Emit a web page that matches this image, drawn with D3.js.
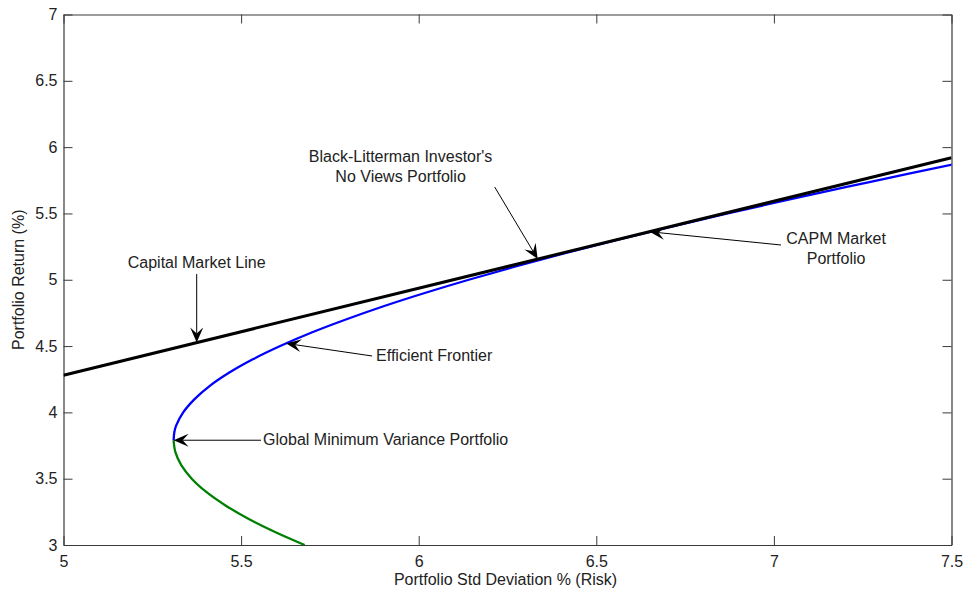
<!DOCTYPE html>
<html>
<head>
<meta charset="utf-8">
<script src="https://cdn.jsdelivr.net/npm/d3@7"></script>
<style>
  html, body { margin: 0; padding: 0; background: #fff; }
  svg { display: block; font-family: Arial, "Liberation Sans", Helvetica, sans-serif; }
</style>
</head>
<body>
<svg id="chart" width="965" height="596"></svg>
<script>
// Axis ticks
const xTicks = [5, 5.5, 6, 6.5, 7, 7.5];
const yTicks = [3, 3.5, 4, 4.5, 5, 5.5, 6, 6.5, 7];

// Capital Market Line (risk %, return %)
const cmlRisk = [5.0, 7.5];
const cmlReturn = [4.28, 5.92];

// Efficient frontier, upper (efficient) branch
const upperReturn = [3.79, 3.85, 3.90, 4.00, 4.10, 4.20, 4.30, 4.40, 4.50, 4.60, 4.70, 4.80, 4.90, 5.00, 5.10, 5.20, 5.30, 5.40, 5.50, 5.60, 5.70, 5.80, 5.87];
const upperRisk   = [5.310, 5.312, 5.317, 5.337, 5.369, 5.412, 5.467, 5.533, 5.610, 5.697, 5.795, 5.901, 6.017, 6.141, 6.273, 6.412, 6.559, 6.712, 6.870, 7.035, 7.205, 7.380, 7.505];

// Lower (inefficient) branch
const lowerReturn = [3.79, 3.70, 3.60, 3.50, 3.40, 3.30, 3.20, 3.10, 3.00];
const lowerRisk   = [5.310, 5.315, 5.332, 5.361, 5.402, 5.455, 5.519, 5.594, 5.679];

// Annotation text and arrows (data units: risk %, return %)
const notes = [
  { lines: ["Capital Market Line"], tx: 5.375, ty: [5.089], anchor: "middle",
    from: [5.375, 5.043], to: [5.375, 4.526] },
  { lines: ["Black-Litterman Investor's", "No Views Portfolio"], tx: 5.949, ty: [5.888, 5.737], anchor: "middle",
    from: [6.214, 5.699], to: [6.335, 5.156] },
  { lines: ["CAPM Market", "Portfolio"], tx: 7.175, ty: [5.270, 5.119], anchor: "middle",
    from: [7.020, 5.262], to: [6.650, 5.362] },
  { lines: ["Efficient Frontier"], tx: 5.880, ty: [4.387], anchor: "start",
    from: [5.869, 4.425], to: [5.627, 4.520] },
  { lines: ["Global Minimum Variance Portfolio"], tx: 5.562, ty: [3.752], anchor: "start",
    from: [5.556, 3.790], to: [5.310, 3.790] }
];

const svg = d3.select("#chart");
const margin = { left: 63.5, right: 965 - 951.5, top: 14.5, bottom: 596 - 545 };
const W = 965, H = 596;

const x = d3.scaleLinear().domain([5, 7.5]).range([margin.left, W - margin.right]);
const y = d3.scaleLinear().domain([3, 7]).range([H - margin.bottom, margin.top]);

const axisColor = "#3a3a3a";
const fontSize = 16;

svg.append("defs").append("clipPath").attr("id", "plotClip")
  .append("rect")
  .attr("x", x(5)).attr("y", y(7))
  .attr("width", x(7.5) - x(5)).attr("height", y(3) - y(7));

function styleAxis(g, showLabels) {
  g.selectAll(".domain").attr("stroke", axisColor).attr("stroke-width", 1.2);
  g.selectAll(".tick line").attr("stroke", axisColor).attr("stroke-width", 1);
  g.selectAll(".tick text").attr("fill", "#222").attr("font-size", fontSize);
  if (!showLabels) g.selectAll(".tick text").remove();
  g.attr("font-family", null);
}

// Bottom axis with labels
svg.append("g").attr("transform", `translate(0,${y(3)})`)
  .call(d3.axisBottom(x).tickValues(xTicks).tickSizeInner(-9).tickSizeOuter(0).tickPadding(11)
    .tickFormat(d3.format("")))
  .call(g => styleAxis(g, true));

// Top axis, ticks only
svg.append("g").attr("transform", `translate(0,${y(7)})`)
  .call(d3.axisTop(x).tickValues(xTicks).tickSizeInner(-9).tickSizeOuter(0))
  .call(g => styleAxis(g, false));

// Left axis with labels
svg.append("g").attr("transform", `translate(${x(5)},0)`)
  .call(d3.axisLeft(y).tickValues(yTicks).tickSizeInner(-9).tickSizeOuter(0).tickPadding(6)
    .tickFormat(d3.format("")))
  .call(g => styleAxis(g, true));

// Right axis, ticks only
svg.append("g").attr("transform", `translate(${x(7.5)},0)`)
  .call(d3.axisRight(y).tickValues(yTicks).tickSizeInner(-9).tickSizeOuter(0))
  .call(g => styleAxis(g, false));

// Axis titles
svg.append("text")
  .attr("x", (x(5) + x(7.5)) / 2 - 2).attr("y", 585)
  .attr("text-anchor", "middle").attr("font-size", fontSize).attr("fill", "#222")
  .text("Portfolio Std Deviation % (Risk)");

svg.append("text")
  .attr("transform", `translate(24,${(y(3) + y(7)) / 2}) rotate(-90)`)
  .attr("text-anchor", "middle").attr("font-size", fontSize).attr("fill", "#222")
  .text("Portfolio Return (%)");

// Curves
const plot = svg.append("g").attr("clip-path", "url(#plotClip)");
const line = d3.line().x(d => x(d[0])).y(d => y(d[1])).curve(d3.curveMonotoneY);

plot.append("path")
  .datum(lowerRisk.map((r, i) => [r, lowerReturn[i]]))
  .attr("d", d3.line().x(d => x(d[0])).y(d => y(d[1])).curve(d3.curveCatmullRom))
  .attr("fill", "none").attr("stroke", "#008000").attr("stroke-width", 2.3);

plot.append("path")
  .datum(upperRisk.map((r, i) => [r, upperReturn[i]]))
  .attr("d", d3.line().x(d => x(d[0])).y(d => y(d[1])).curve(d3.curveCatmullRom))
  .attr("fill", "none").attr("stroke", "#0000ff").attr("stroke-width", 2.3);

plot.append("path")
  .datum(cmlRisk.map((r, i) => [r, cmlReturn[i]]))
  .attr("d", d3.line().x(d => x(d[0])).y(d => y(d[1])))
  .attr("fill", "none").attr("stroke", "#000").attr("stroke-width", 3);

// Annotations
const ann = svg.append("g");
notes.forEach(n => {
  const x1 = x(n.from[0]), y1 = y(n.from[1]);
  const x2 = x(n.to[0]), y2 = y(n.to[1]);
  const ang = Math.atan2(y2 - y1, x2 - x1);
  const L = 15, Wd = 13, notch = 9;
  ann.append("line")
    .attr("x1", x1).attr("y1", y1)
    .attr("x2", x2 - Math.cos(ang) * notch).attr("y2", y2 - Math.sin(ang) * notch)
    .attr("stroke", "#000").attr("stroke-width", 1);
  const head = [[0, 0], [-L, -Wd / 2], [-notch, 0], [-L, Wd / 2]];
  ann.append("path")
    .attr("d", "M" + head.map(p => p.join(",")).join("L") + "Z")
    .attr("transform", `translate(${x2},${y2}) rotate(${ang * 180 / Math.PI})`)
    .attr("fill", "#000");
  n.lines.forEach((t, i) => {
    ann.append("text")
      .attr("x", x(n.tx)).attr("y", y(n.ty[i]))
      .attr("text-anchor", n.anchor).attr("font-size", fontSize).attr("fill", "#222")
      .text(t);
  });
});
</script>
</body>
</html>
